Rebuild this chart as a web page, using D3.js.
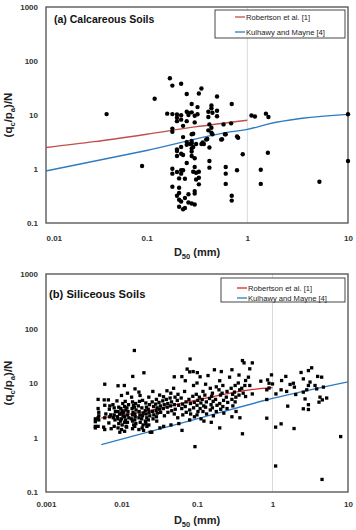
<!DOCTYPE html>
<html><head><meta charset="utf-8">
<script src="https://cdn.jsdelivr.net/npm/d3@7"></script>
<style>
body{margin:0;background:#fff}
svg{display:block}
text{font-family:"Liberation Sans",Arial,sans-serif}
</style>
</head><body>
<svg id="c" width="356" height="530"></svg>
<script>
// ---------- data ----------
const yTickValues = [0.1, 1, 10, 100, 1000];
const yTickLabels = ["0.1", "1", "10", "100", "1000"];
const xTickValuesA = [0.01, 0.1, 1, 10];
const xTickLabelsA = ["0.01", "0.1", "1", "10"];
const xTickValuesB = [0.001, 0.01, 0.1, 1, 10];
const xTickLabelsB = ["0.001", "0.01", "0.1", "1", "10"];
const seriesNames = ["Robertson et al. [1]", "Kulhawy and Mayne [4]"];
const panelTitles = ["(a) Calcareous Soils", "(b) Siliceous Soils"];

// (a) Calcareous: [D50 mm, (qc/pa)/N]
const calcPoints = [
[0.17,48],[0.18,35],[0.22,38],[0.12,20],[0.35,31],[0.33,25],[0.25,24.5],[0.50,22],[0.70,16],[0.28,16],
[0.32,14],[0.44,15],[0.44,13.3],[0.16,10.6],[0.18,10.4],[0.20,10.2],[0.22,9.9],[0.25,11.5],[0.26,10.9],[0.28,11.2],
[0.26,10.0],[0.30,9.7],[0.32,10.3],[0.41,11.5],[0.45,11],[0.50,12],[0.20,8.9],[0.20,7.7],[0.22,8.2],[0.41,9.2],
[0.50,9.5],[0.25,7.7],[0.30,7.3],[0.23,6.3],[0.18,5.6],[0.18,4.9],[0.42,6.7],[0.44,5.8],[0.41,5.2],[0.44,4.7],
[0.45,4.4],[0.58,6.7],[0.69,7.0],[0.29,4.5],[0.23,3.9],[0.61,4.4],[0.56,3.55],[0.79,4.0],[0.81,3.8],[0.39,3.5],
[0.40,3.6],[0.36,3.1],[0.25,3.15],[0.27,2.9],[0.28,3.0],[0.28,2.4],[0.20,2.3],[0.22,2.55],[0.42,2.5],[0.28,4.4],
[0.28,3.3],[0.31,2.9],[0.35,2.9],[0.37,2.9],[0.55,3.5],[0.60,4.4],
[0.20,2.15],[0.22,1.92],[0.23,1.82],[0.20,1.74],[0.25,2.8],[0.29,2.55],[0.28,2.1],[0.28,1.74],[0.30,1.58],[0.42,1.41],
[0.42,1.06],[0.25,1.29],[0.30,1.09],[0.33,0.89],[0.29,0.89],[0.31,0.85],[0.33,0.69],[0.31,0.64],[0.33,0.52],[0.30,0.39],
[0.30,0.35],[0.09,1.14],[0.18,1.01],[0.18,0.82],[0.20,0.88],[0.22,0.95],[0.23,0.95],[0.22,0.82],[0.21,0.67],[0.24,0.66],
[0.18,0.47],[0.21,0.45],[0.21,0.36],[0.21,0.27],[0.20,0.32],[0.22,0.25],[0.24,0.29],[0.26,0.34],[0.26,0.24],[0.28,0.23],
[0.30,0.22],[0.21,0.20],[0.23,0.18],[0.24,0.19],[0.61,1.09],[0.61,0.82],[0.61,0.53],[0.79,0.95],[0.70,0.32],[0.70,0.26],
[0.04,10.4],[0.90,1.87],[1.10,9.8],[1.19,9.4],[1.53,10.6],[1.62,9.2],[1.6,2.0],[1.36,0.97],[1.36,0.53],[5.2,0.58],
[10,10.3],[10,1.41]
];

// (b) Siliceous: [D50 mm, (qc/pa)/N]
const siliPoints = [
[0.0045,2.2],[0.0045,1.95],[0.0045,1.6],[0.0045,1.5],
[0.0049,5.0],[0.0049,3.4],[0.0050,2.9],[0.0050,2.5],[0.0049,2.3],[0.0050,2.1],[0.0049,1.6],
[0.0060,9.5],[0.0059,4.9],[0.0060,3.9],[0.0062,2.7],[0.0060,2.3],[0.0058,1.55],[0.0060,1.4],
[0.0067,4.9],[0.0070,3.8],[0.0069,3.3],[0.0072,2.6],[0.0070,2.4],[0.0068,1.85],[0.0073,1.45],
[0.0077,4.0],[0.0080,3.5],[0.0083,3.0],[0.0080,2.6],[0.0078,2.3],[0.0082,2.1],[0.0080,1.6],
[0.0090,8.9],[0.0087,4.7],[0.0092,3.6],[0.0090,3.0],[0.0094,2.7],[0.0088,2.4],[0.0090,2.2],[0.0092,1.8],[0.0090,1.5],[0.0095,1.25],
[0.0100,5.9],[0.0104,4.2],[0.0098,3.4],[0.0102,3.1],[0.0100,2.8],[0.0105,2.5],[0.0100,2.2],[0.0097,2.0],[0.0102,1.7],[0.0100,1.4],
[0.0109,9.0],[0.0112,4.6],[0.0110,3.7],[0.0114,3.2],[0.0107,2.9],[0.0110,2.4],[0.0113,2.1],[0.0110,1.9],[0.0115,1.6],[0.0110,1.3],
[0.0120,6.5],[0.0124,4.0],[0.0118,3.5],[0.0122,3.0],[0.0120,2.6],[0.0125,2.3],[0.0120,1.9],[0.0117,1.55],
[0.0141,13.2],[0.0136,5.5],[0.0140,4.5],[0.0144,3.9],[0.0138,3.4],[0.0142,2.9],[0.0140,2.6],[0.0135,2.2],[0.0140,2.0],[0.0145,1.7],[0.0140,1.45],
[0.0148,39.5],[0.0151,7.8],[0.0154,4.2],[0.0148,3.6],[0.0156,3.2],[0.0150,2.7],[0.0152,2.4],[0.0150,2.1],[0.0155,1.8],[0.0150,1.6],
[0.0170,6.8],[0.0176,5.9],[0.0173,4.6],[0.0167,3.8],[0.0171,3.0],[0.0175,2.6],[0.0170,2.3],[0.0177,1.9],[0.0170,1.4],
[0.0198,15.4],[0.0190,4.8],[0.0186,3.5],[0.0194,2.8],[0.0190,2.5],[0.0185,2.2],[0.0193,1.7],[0.0188,1.5],[0.0196,1.35],
[0.0210,4.3],[0.0214,3.6],[0.0206,3.1],[0.0212,2.7],[0.0216,2.3],[0.0207,2.0],[0.0210,1.8],[0.0217,1.6],
[0.0230,5.5],[0.0235,4.0],[0.0226,3.3],[0.0232,2.9],[0.0237,2.5],[0.0227,2.1],[0.0230,1.7],[0.0240,1.25],
[0.0260,7.0],[0.0255,4.5],[0.0266,3.7],[0.0258,3.0],[0.0268,2.6],[0.0262,2.2],[0.0252,1.25],
[0.0290,5.0],[0.0284,4.1],[0.0296,3.5],[0.0288,3.1],[0.0298,2.8],[0.0290,2.4],[0.0293,2.0],
[0.0320,6.0],[0.0314,4.4],[0.0327,3.8],[0.0320,3.3],[0.0330,2.9],[0.0323,1.5],
[0.0360,5.6],[0.0352,4.7],[0.0368,4.0],[0.0358,3.4],[0.0370,2.5],[0.0362,1.6],
[0.0400,7.2],[0.0392,5.0],[0.0410,4.2],[0.0403,3.6],[0.0412,2.9],
[0.0450,6.5],[0.0440,5.3],[0.0460,4.5],[0.0447,3.8],[0.0463,3.1],[0.0452,1.7],
[0.0500,13],[0.0490,8.0],[0.0512,5.5],[0.0502,4.0],[0.0515,3.3],[0.0500,2.7],
[0.0560,6.2],[0.0548,4.8],[0.0572,3.9],[0.0556,2.3],[0.0575,1.8],
[0.0630,13.1],[0.0617,5.3],[0.0645,4.1],[0.0628,3.4],[0.0648,2.6],[0.0633,1.35],
[0.0700,11],[0.0685,7.0],[0.0716,4.5],[0.0698,3.7],[0.0720,2.9],
[0.0740,18],
[0.0810,27.5],[0.0800,16],[0.0782,5.0],[0.0818,4.2],[0.0801,3.2],[0.0823,2.7],[0.0800,2.1],
[0.0890,16.2],[0.0900,9.0],[0.0880,5.7],[0.0920,4.4],[0.0901,3.5],[0.0925,2.4],
[0.0940,0.68],
[0.1010,15.5],[0.1000,10],[0.0978,6.2],[0.1025,4.8],[0.1001,3.9],[0.1030,3.0],[0.1000,2.6],
[0.1100,13],[0.1075,5.5],[0.1125,4.3],[0.1100,3.4],[0.1130,2.2],
[0.1200,7.0],[0.1172,5.0],[0.1228,3.8],[0.1200,3.0],[0.1235,2.0],
[0.1300,9.5],[0.1270,6.0],[0.1330,4.5],[0.1300,3.6],[0.1340,2.7],
[0.1400,13.7],
[0.1500,8.0],[0.1465,5.2],[0.1535,4.0],[0.1500,3.2],[0.1545,1.9],
[0.1600,6.5],[0.1563,5.7],[0.1637,4.6],[0.1600,3.5],[0.1648,2.5],
[0.1700,17.5],
[0.1800,8.5],[0.1760,5.0],[0.1840,3.9],[0.1800,3.0],
[0.2000,11],[0.1955,7.5],[0.2045,6.0],[0.2000,4.2],[0.2060,3.3],[0.2000,1.5],
[0.2100,16.2],
[0.2200,9.0],[0.2150,6.5],[0.2250,4.8],[0.2200,3.7],[0.2265,2.8],
[0.2500,7.0],[0.2445,5.5],[0.2555,4.4],[0.2500,3.4],
[0.2700,12.8],
[0.2900,17.5],[0.2835,8.0],[0.2965,6.2],[0.2900,5.0],[0.2985,3.8],[0.2900,2.4],
[0.3200,9.0],[0.3130,6.8],[0.3270,5.5],[0.3200,4.5],[0.3290,3.0],
[0.3600,14],[0.3520,10],[0.3680,7.5],[0.3600,6.0],[0.3700,2.3],
[0.4000,25.8],[0.3910,8.0],[0.4090,6.5],[0.4000,1.17],
[0.4200,23.4],
[0.54,23.4],[0.50,18.2],[0.48,12.8],[0.44,11.1],[0.43,9.0],[0.50,9.0],[0.54,6.3],[0.44,5.65],[0.70,10.8],[0.86,11.4],
[0.97,14.1],[0.90,9.9],[1.0,9.6],[0.84,7.5],[0.90,8.1],[1.11,6.3],[1.32,11.1],[1.50,13.2],[0.84,4.98],[1.30,7.5],
[1.54,7.0],[1.71,9.4],[1.89,9.9],[1.95,8.4],[2.03,6.15],[1.59,3.76],[2.39,15.6],[2.56,11.9],[2.99,16.9],[3.30,19.0],
[3.14,10.4],[2.99,9.0],[2.84,7.5],[2.56,6.8],[2.70,5.1],[2.56,3.36],[2.99,3.26],[2.99,4.0],[3.66,9.0],[3.85,7.8],
[3.96,13.2],[4.48,12.8],[4.72,8.4],[4.26,5.5],[4.13,4.45],[4.57,4.9],[5.22,5.3],[0.84,2.26],[1.10,1.55],[1.30,1.78],
[1.93,1.46],[1.10,0.30],[4.53,0.17],[8.0,1.04]
];

// correlation curves [D50, (qc/pa)/N]
const robertsonA = [[0.01,2.5],[0.03,3.2],[0.1,4.4],[0.3,6.0],[1,8.0]];
const kulhawyA = [[0.01,0.92],[0.1,2.2],[0.7,4.9],[1,5.4],[1.6,6.8],[3.5,8.7],[10,10.3]];
const robertsonB = [[0.0054,2.3],[0.0176,2.9],[0.094,4.8],[0.5,7.5],[1,8.2]];
const kulhawyB = [[0.0054,0.74],[0.1,2.2],[1,5.2],[10,10.5]];

// ---------- drawing ----------
const svg = d3.select("#c");
const FONT = '"Liberation Sans",Arial,sans-serif';

function drawPanel(o) {
  const g = svg.append("g");
  const x = d3.scaleLog().domain(o.xDomain).range([o.left, o.right]);
  const y = d3.scaleLog().domain([0.1, 1000]).range([o.bottom, o.top]);

  // light vertical gridline at 1 mm
  g.append("line")
    .attr("x1", x(1)).attr("x2", x(1))
    .attr("y1", o.top).attr("y2", o.bottom)
    .attr("stroke", "#d9d9d9").attr("stroke-width", 1);

  // frame
  g.append("rect")
    .attr("x", o.left).attr("y", o.top)
    .attr("width", o.right - o.left).attr("height", o.bottom - o.top)
    .attr("fill", "none").attr("stroke", "#5a5a5a").attr("stroke-width", 1.4);

  // y axis labels
  const ya = g.append("g").attr("transform", `translate(${o.left},0)`)
    .call(d3.axisLeft(y).tickValues(yTickValues)
      .tickFormat((d, i) => yTickLabels[i]).tickSize(0).tickPadding(8));
  ya.select(".domain").remove();
  ya.selectAll("text").attr("font-size", 8).attr("font-weight", "bold").attr("fill", "#333")
    .style("font-family", FONT);

  // x axis labels
  const xa = g.append("g").attr("transform", `translate(0,${o.bottom})`)
    .call(d3.axisBottom(x).tickValues(o.xTicks)
      .tickFormat((d, i) => o.xLabels[i]).tickSize(0).tickPadding(o.xPad));
  xa.select(".domain").remove();
  xa.selectAll("text").attr("font-size", 8).attr("font-weight", "bold").attr("fill", "#333")
    .style("font-family", FONT);
  if (o.firstStart) xa.select(".tick text").attr("text-anchor", "start");

  // curves
  const line = d3.line().x(d => x(d[0])).y(d => y(d[1])).curve(d3.curveMonotoneX);
  g.append("path").datum(o.red).attr("d", line)
    .attr("fill", "none").attr("stroke", o.redColor).attr("stroke-width", 1.3);
  g.append("path").datum(o.blue).attr("d", line)
    .attr("fill", "none").attr("stroke", "#2f7bc1").attr("stroke-width", 1.3);

  // points
  if (o.shape === "circle") {
    g.append("g").selectAll("circle").data(o.points).join("circle")
      .attr("cx", d => x(d[0])).attr("cy", d => y(d[1])).attr("r", 2.2).attr("fill", "#000");
  } else {
    const s = 3.3;
    g.append("g").selectAll("rect").data(o.points).join("rect")
      .attr("x", d => x(d[0]) - s / 2).attr("y", d => y(d[1]) - s / 2)
      .attr("width", s).attr("height", s).attr("fill", "#000");
  }

  // panel title
  g.append("text").attr("x", o.left + o.titleDx).attr("y", o.top + o.titleDy)
    .attr("font-size", o.titleSize).attr("font-weight", "bold").attr("fill", "#111")
    .text(o.title);

  // legend
  const L = o.legend;
  g.append("rect").attr("x", L.x).attr("y", L.y).attr("width", L.w).attr("height", L.h)
    .attr("fill", "#fff").attr("stroke", "#333").attr("stroke-width", 0.9);
  [o.redColor, "#2f7bc1"].forEach((c, i) => {
    const yy = L.y + L.r0 + i * L.step;
    g.append("line").attr("x1", L.x + L.lx).attr("x2", L.x + L.lx + 10)
      .attr("y1", yy).attr("y2", yy).attr("stroke", c).attr("stroke-width", 1.3);
    g.append("text").attr("x", L.x + L.lx + 11).attr("y", yy + 2.6)
      .attr("font-size", 7.6).attr("fill", "#222").text(seriesNames[i]);
  });

  // x axis title D50 (mm)
  const xt = g.append("text").attr("x", (o.left + o.right) / 2).attr("y", o.xTitleY)
    .attr("text-anchor", "middle").attr("font-size", 11).attr("font-weight", "bold").attr("fill", "#222");
  xt.append("tspan").text("D");
  xt.append("tspan").attr("font-size", 7.5).attr("dy", 2.5).text("50");
  xt.append("tspan").attr("dy", -2.5).text(" (mm)");

  // y axis title (qc/pa)/N
  const cy = (o.top + o.bottom) / 2;
  const yt = g.append("text").attr("transform", `translate(12,${cy}) rotate(-90)`)
    .attr("text-anchor", "middle").attr("font-size", 11.5).attr("font-weight", "bold").attr("fill", "#222");
  yt.append("tspan").text("(q");
  yt.append("tspan").attr("font-size", 7.5).attr("dy", 2.5).text("c");
  yt.append("tspan").attr("dy", -2.5).text("/p");
  yt.append("tspan").attr("font-size", 7.5).attr("dy", 2.5).text("a");
  yt.append("tspan").attr("dy", -2.5).text(")/N");
}

drawPanel({
  xDomain: [0.01, 10], xTicks: xTickValuesA, xLabels: xTickLabelsA, firstStart: true,
  left: 46, right: 348, top: 7, bottom: 223, xPad: 12, xTitleY: 256,
  points: calcPoints, shape: "circle",
  red: robertsonA, blue: kulhawyA, redColor: "#c0504d",
  title: panelTitles[0], titleDx: 8, titleDy: 16, titleSize: 10.5,
  legend: { x: 215, y: 10, w: 130, h: 28, r0: 7, step: 15, lx: 20 }
});
drawPanel({
  xDomain: [0.001, 10], xTicks: xTickValuesB, xLabels: xTickLabelsB, firstStart: false,
  left: 46, right: 348, top: 274, bottom: 492, xPad: 9, xTitleY: 524,
  points: siliPoints, shape: "square",
  red: robertsonB, blue: kulhawyB, redColor: "#d9262a",
  title: panelTitles[1], titleDx: 3, titleDy: 23.5, titleSize: 11.2,
  legend: { x: 221, y: 278, w: 124, h: 24, r0: 10, step: 10, lx: 16 }
});
</script>
</body></html>
